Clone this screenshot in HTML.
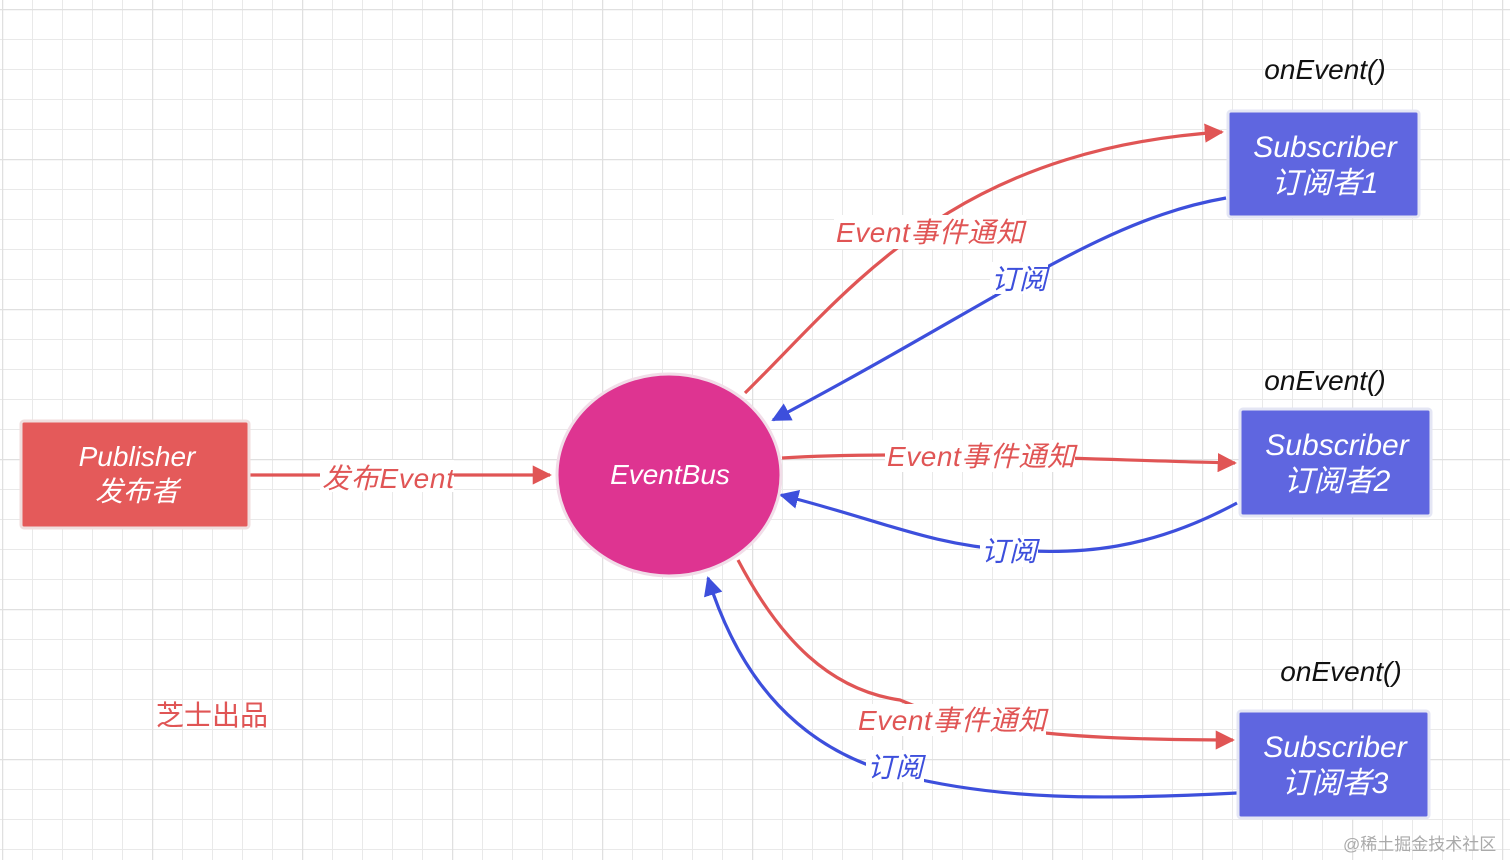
<!DOCTYPE html>
<html><head><meta charset="utf-8"><style>
html,body{margin:0;padding:0;background:#fff;}
svg text{font-family:"Liberation Sans","Noto Sans CJK SC",sans-serif;font-style:italic;}
</style></head><body>
<svg width="1510" height="860" viewBox="0 0 1510 860" xmlns="http://www.w3.org/2000/svg">
<defs>
<pattern id="g" x="2" y="9" width="30" height="30" patternUnits="userSpaceOnUse">
<path d="M0 0H30M0 0V30" stroke="#e9e9e9" stroke-width="2" fill="none"/>
</pattern>
<pattern id="G" x="2" y="9" width="150" height="150" patternUnits="userSpaceOnUse">
<path d="M0 0H150M0 0V150" stroke="#e0e0e0" stroke-width="2.5" fill="none"/>
</pattern>
<marker id="ar" viewBox="0 0 10 10" refX="9" refY="5" markerWidth="6" markerHeight="6" orient="auto"><path d="M0 0L10 5L0 10z" fill="#e05555"/></marker>
<marker id="ab" viewBox="0 0 10 10" refX="9" refY="5" markerWidth="6" markerHeight="6" orient="auto"><path d="M0 0L10 5L0 10z" fill="#3d4fdc"/></marker>
</defs>
<rect width="1510" height="860" fill="url(#g)"/>
<rect width="1510" height="860" fill="url(#G)"/>

<g fill="none" stroke-width="3.2">
<path d="M250 475H550" stroke="#e05555" marker-end="url(#ar)"/>
<path d="M745 393C850 290 950 150 1222 132" stroke="#e05555" marker-end="url(#ar)"/>
<path d="M1226 198C1100 220 1000 300 773 420" stroke="#3d4fdc" marker-end="url(#ab)"/>
<path d="M782 458C900 450 1100 460 1235 463" stroke="#e05555" marker-end="url(#ar)"/>
<path d="M1237 503C1150 550 1080 555 1010 550C930 545 880 520 781 495" stroke="#3d4fdc" marker-end="url(#ab)"/>
<path d="M738 560C780 640 830 690 900 700C980 735 1100 740 1233 740" stroke="#e05555" marker-end="url(#ar)"/>
<path d="M1237 793C1100 800 1000 800 900 775C800 750 740 680 708 578" stroke="#3d4fdc" marker-end="url(#ab)"/>
</g>

<g fill="#fff">
<rect x="320" y="460" width="134" height="32"/>
<rect x="834" y="215" width="192" height="34"/>
<rect x="990" y="262" width="58" height="32"/>
<rect x="885" y="440" width="190" height="32"/>
<rect x="980" y="535" width="58" height="32"/>
<rect x="856" y="704" width="190" height="32"/>
<rect x="866" y="750" width="58" height="32"/>
</g>
<g font-size="28">
<text x="322" y="488" fill="#e05555" textLength="132">发布Event</text>
<text x="836" y="242" fill="#e05555" textLength="188">Event事件通知</text>
<text x="991" y="289" fill="#3d4fdc">订阅</text>
<text x="887" y="466" fill="#e05555" textLength="188">Event事件通知</text>
<text x="981" y="561" fill="#3d4fdc">订阅</text>
<text x="858" y="730" fill="#e05555" textLength="188">Event事件通知</text>
<text x="867" y="777" fill="#3d4fdc">订阅</text>
</g>

<rect x="21" y="421" width="228" height="107" rx="3" fill="#e45a5a" stroke="#f0dede" stroke-width="3"/>
<text x="137" y="466" font-size="28" fill="#fff" text-anchor="middle">Publisher</text>
<text x="137" y="501" font-size="28" fill="#fff" text-anchor="middle">发布者</text>

<ellipse cx="669" cy="475" rx="112" ry="101" fill="#de3491" stroke="#f1dde8" stroke-width="3"/>
<text x="670" y="484" font-size="28" fill="#fff" text-anchor="middle">EventBus</text>

<g fill="#5f66e0" stroke="#e4e6f4" stroke-width="3">
<rect x="1228" y="111" width="191" height="106" rx="3"/>
<rect x="1240" y="409" width="191" height="107" rx="3"/>
<rect x="1238" y="711" width="191" height="107" rx="3"/>
</g>
<g font-size="30" fill="#fff" text-anchor="middle">
<text x="1325" y="157">Subscriber</text><text x="1325" y="193">订阅者1</text>
<text x="1337" y="455">Subscriber</text><text x="1337" y="491">订阅者2</text>
<text x="1335" y="757">Subscriber</text><text x="1335" y="793">订阅者3</text>
</g>
<g font-size="28" fill="#111" text-anchor="middle">
<text x="1325" y="79">onEvent()</text>
<text x="1325" y="390">onEvent()</text>
<text x="1341" y="681">onEvent()</text>
</g>
<text x="156" y="725" font-size="28" fill="#e05555" style="font-style:normal">芝士出品</text>
<text x="1343" y="850" font-size="17" fill="#aaa" style="font-style:normal">@稀土掘金技术社区</text>
</svg>
</body></html>
